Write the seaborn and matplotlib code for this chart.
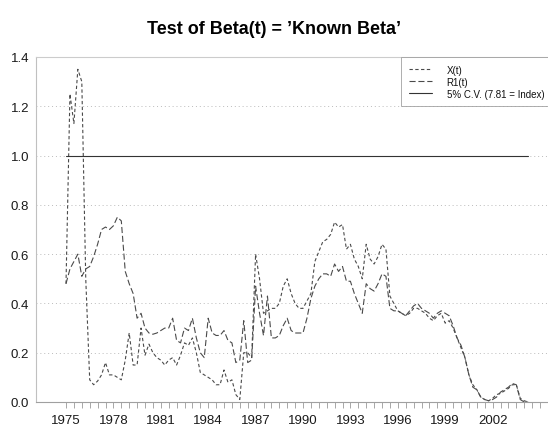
import numpy as np
import pandas as pd
import matplotlib
matplotlib.use("Agg")
import matplotlib.pyplot as plt
import seaborn as sns

# quarterly observations, 1975Q1 .. 2004Q2
start_year = 1975
x_t = [0.48, 1.25, 1.13, 1.35, 1.30, 0.50, 0.09, 0.07, 0.085, 0.11,
       0.16, 0.11, 0.11, 0.10, 0.09, 0.17, 0.28, 0.15, 0.15, 0.30,
       0.19, 0.235, 0.20, 0.18, 0.17, 0.15, 0.17, 0.18, 0.15, 0.19,
       0.24, 0.23, 0.26, 0.20, 0.12, 0.11, 0.10, 0.09, 0.07, 0.07,
       0.13, 0.08, 0.09, 0.03, 0.01, 0.20, 0.20, 0.18, 0.60, 0.50,
       0.36, 0.37, 0.38, 0.38, 0.40, 0.47, 0.50, 0.44, 0.40, 0.38,
       0.38, 0.41, 0.44, 0.57, 0.61, 0.65, 0.66, 0.68, 0.73, 0.71,
       0.72, 0.62, 0.64, 0.58, 0.55, 0.50, 0.64, 0.58, 0.56, 0.59,
       0.64, 0.62, 0.43, 0.40, 0.37, 0.36, 0.35, 0.36, 0.38, 0.38,
       0.37, 0.36, 0.34, 0.33, 0.35, 0.36, 0.32, 0.33, 0.30, 0.26,
       0.22, 0.18, 0.11, 0.07, 0.05, 0.02, 0.01, 0.005, 0.015, 0.03,
       0.035, 0.045, 0.055, 0.07, 0.07, 0.015, 0.005, 0.0]
r1_t = [0.48, 0.54, 0.57, 0.60, 0.51, 0.54, 0.55, 0.59, 0.64, 0.70,
        0.71, 0.70, 0.715, 0.75, 0.735, 0.53, 0.48, 0.44, 0.34, 0.36,
        0.30, 0.28, 0.275, 0.28, 0.29, 0.30, 0.30, 0.34, 0.25, 0.24,
        0.30, 0.29, 0.34, 0.26, 0.20, 0.18, 0.34, 0.28, 0.27, 0.27,
        0.29, 0.25, 0.24, 0.16, 0.17, 0.33, 0.16, 0.17, 0.47, 0.36,
        0.27, 0.43, 0.26, 0.26, 0.27, 0.31, 0.34, 0.29, 0.28, 0.28,
        0.28, 0.34, 0.42, 0.47, 0.50, 0.52, 0.52, 0.51, 0.56, 0.53,
        0.55, 0.49, 0.49, 0.44, 0.40, 0.36, 0.48, 0.46, 0.45, 0.48,
        0.52, 0.51, 0.38, 0.37, 0.37, 0.36, 0.35, 0.37, 0.39, 0.40,
        0.38, 0.37, 0.36, 0.34, 0.36, 0.37, 0.36, 0.35, 0.31, 0.26,
        0.23, 0.18, 0.11, 0.06, 0.05, 0.02, 0.01, 0.005, 0.01, 0.02,
        0.04, 0.05, 0.06, 0.075, 0.07, 0.01, 0.0, 0.0]
crit_value = 1.0
labels = ["X(t)", "R1(t)", "5% C.V. (7.81 = Index)"]
year_ticks = list(range(1975, 2003, 3))

years = start_year + np.arange(len(x_t)) / 4.0
df = pd.DataFrame({"year": years, "X": x_t, "R1": r1_t})

sns.set_style("white")
plt.rcParams['font.family'] = ['Liberation Sans', 'DejaVu Sans']
plt.rcParams['text.color'] = "#111111"
plt.rcParams['xtick.labelcolor'] = "#1a1a1a"
plt.rcParams['ytick.labelcolor'] = "#1a1a1a"

fig = plt.figure(figsize=(5.48, 4.27), dpi=100)
W, H = 548, 427
ax = fig.add_axes([36 / W, (H - 403) / H, (560 - 36) / W, (403 - 58) / H])

line_col = "#4a4a4a"
sns.lineplot(data=df, x="year", y="X", ax=ax, color=line_col, lw=0.8,
             linestyle=(0, (3, 2.2)), label=labels[0])
sns.lineplot(data=df, x="year", y="R1", ax=ax, color=line_col, lw=0.8,
             linestyle=(0, (5.5, 2.5)), label=labels[1])
ax.plot([years[0], years[-1]], [crit_value, crit_value], color="#333333",
        lw=0.8, label=labels[2])

ax.set_xlim(start_year + (36 - 66) / 15.8, start_year + (560 - 66) / 15.8)
ax.set_ylim(0, 1.4)
ax.set_yticks(np.arange(0, 1.41, 0.2))
ax.set_yticklabels(["%.1f" % v for v in np.arange(0, 1.41, 0.2)])
ax.set_xticks(year_ticks)
ax.set_xticklabels([str(y) for y in year_ticks])
ax.set_xticks(np.arange(1975, 2005.6, 0.5), minor=True)
ax.tick_params(axis="x", which="both", bottom=True, length=4, width=0.6,
               color="#999999", pad=5, labelsize=9.5)
ax.tick_params(axis="y", length=0, pad=5, labelsize=9.5)
ax.set_xlabel("")
ax.set_ylabel("")

for yv in np.arange(0.2, 1.21, 0.2):
    ax.axhline(yv, color="#bbbbbb", lw=0.7, linestyle=(0, (1, 3)), zorder=0)

for side, col in [("left", "#c0c0c0"), ("bottom", "#a0a0a0"), ("top", "#cccccc")]:
    ax.spines[side].set_color(col)
    ax.spines[side].set_linewidth(0.8)
ax.spines["right"].set_visible(False)

leg = ax.legend(loc="upper left", bbox_to_anchor=((401 - 36) / 524, 0, 1 - (401 - 36) / 524, 1.0),
                mode="expand", borderaxespad=0, fontsize=7, frameon=True, fancybox=False,
                handlelength=2.4, handletextpad=1.5, labelspacing=0.2, borderpad=0.8)
leg.get_frame().set_edgecolor("#999999")
leg.get_frame().set_linewidth(0.7)

fig.text(0.5, 1 - 30 / H, "Test of Beta(t) = \u2019Known Beta\u2019", ha="center", va="center",
         fontsize=13, fontweight="bold", color="black")

fig.savefig("out.png", dpi=100)
